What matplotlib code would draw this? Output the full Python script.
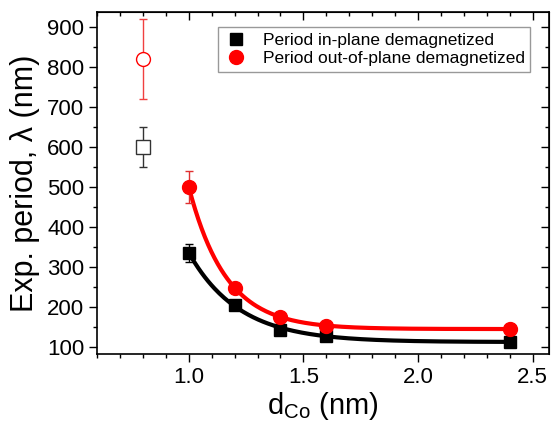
import numpy as np
import matplotlib
matplotlib.use("Agg")
import matplotlib.pyplot as plt
from matplotlib.ticker import MultipleLocator

plt.rcParams["font.family"] = ["Liberation Sans", "DejaVu Sans"]
plt.rcParams["mathtext.fontset"] = "custom"
plt.rcParams["mathtext.rm"] = "Liberation Sans"

# filled points (fitted series)
d_co = [1.0, 1.2, 1.4, 1.6, 2.4]
period_in = [335, 205, 143, 128, 113]
err_in = [22, 6, 5, 4, 4]
period_out = [500, 248, 175, 152, 145]
err_out = [40, 6, 5, 4, 4]

# open points at 0.8 nm
d_open = [0.8]
open_in = [600]
open_in_err = [50]
open_out = [820]
open_out_err = [100]


def fit_exp(x, y):
    # y = y0 + A*exp(-(x - x0)/t), grid search on t, linear lsq for y0, A
    x = np.asarray(x, float)
    y = np.asarray(y, float)
    best = None
    for t in np.linspace(0.05, 1.0, 400):
        M = np.column_stack([np.ones_like(x), np.exp(-(x - x[0]) / t)])
        coef, *_ = np.linalg.lstsq(M, y, rcond=None)
        r = np.sum((M @ coef - y) ** 2)
        if best is None or r < best[0]:
            best = (r, t, coef)
    _, t, (y0, a) = best
    return lambda xx: y0 + a * np.exp(-(xx - x[0]) / t)


fig = plt.figure(figsize=(5.51, 4.25), dpi=100)
ax = fig.add_axes([0.176, 0.167, 0.82, 0.805])

xs = np.linspace(1.0, 2.4, 200)
ax.plot(xs, fit_exp(d_co, period_in)(xs), color="black", lw=3, zorder=2)
ax.plot(xs, fit_exp(d_co, period_out)(xs), color="red", lw=3, zorder=2)

ax.errorbar(d_co, period_in, yerr=err_in, fmt="none", ecolor="black",
            elinewidth=1, capsize=3, zorder=3)
ax.errorbar(d_co, period_out, yerr=err_out, fmt="none", ecolor="#e03030",
            elinewidth=1, capsize=3, zorder=3)
ax.plot(d_co, period_in, "s", color="black", ms=9, zorder=4,
        label="Period in-plane demagnetized")
ax.plot(d_co, period_out, "o", color="red", ms=10, zorder=4,
        label="Period out-of-plane demagnetized")

ax.errorbar(d_open, open_in, yerr=open_in_err, fmt="s", mfc="white", mec="#333333",
            ecolor="#333333", ms=10, mew=1, elinewidth=1, capsize=3)
ax.errorbar(d_open, open_out, yerr=open_out_err, fmt="o", mfc="white", mec="red",
            ecolor="#f04040", ms=10, mew=1, elinewidth=1, capsize=3)

ax.set_xlim(0.6, 2.57)
ax.set_ylim(82, 937)
ax.xaxis.set_minor_locator(MultipleLocator(0.1))
ax.yaxis.set_major_locator(MultipleLocator(100))
ax.yaxis.set_minor_locator(MultipleLocator(50))
ax.set_xticks([1.0, 1.5, 2.0, 2.5])
ax.set_xticklabels(["1.0", "1.5", "2.0", "2.5"])

ax.tick_params(which="both", direction="out", labelsize=16, width=1, pad=3)
ax.tick_params(which="major", length=6)
ax.tick_params(which="minor", length=3)
for spine in ax.spines.values():
    spine.set_linewidth(1.2)

# mirrored ticks on top and right, pointing inward
top = ax.secondary_xaxis("top")
top.set_xticks([1.0, 1.5, 2.0, 2.5])
top.xaxis.set_minor_locator(MultipleLocator(0.1))
right = ax.secondary_yaxis("right")
right.yaxis.set_major_locator(MultipleLocator(100))
right.yaxis.set_minor_locator(MultipleLocator(50))
for sec in (top, right):
    sec.tick_params(which="both", direction="in", width=1,
                    labeltop=False, labelright=False)
    sec.tick_params(which="major", length=6)
    sec.tick_params(which="minor", length=3)

ax.set_xlabel(r"d$_{\mathrm{Co}}$ (nm)", fontsize=21, labelpad=2)
ax.set_ylabel("Exp. period, λ (nm)", fontsize=22, labelpad=5)

leg = ax.legend(loc="upper right", fontsize=12.5, frameon=True, fancybox=False,
                edgecolor="gray", handletextpad=0.8, borderpad=0.3,
                labelspacing=0.2, handlelength=1.5,
                bbox_to_anchor=(0.978, 0.98))
leg.get_frame().set_linewidth(1)

fig.savefig("out.png", dpi=100)
